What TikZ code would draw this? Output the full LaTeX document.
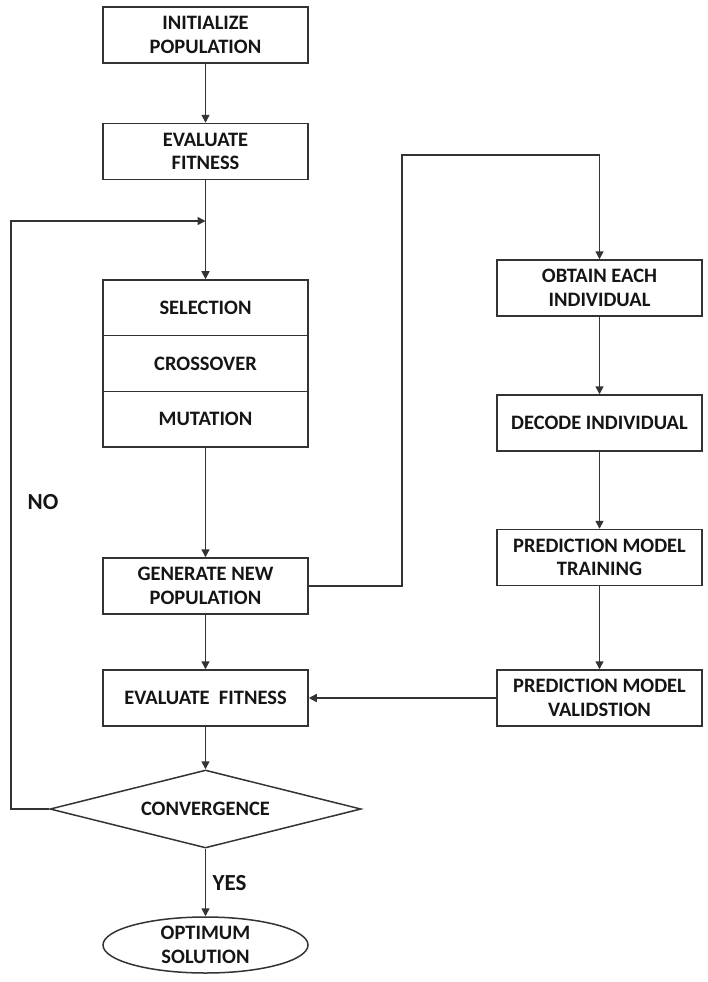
\documentclass[tikz,border=0pt]{standalone}
\usepackage{fontspec}
\setmainfont{Carlito}
\usetikzlibrary{arrows.meta,shapes.geometric}
\definecolor{ln}{HTML}{333333}
\definecolor{tx}{HTML}{151515}
\begin{document}
\begin{tikzpicture}[x=1pt,y=-1pt,
  every node/.style={text=tx,font=\fontsize{20.5}{23.5}\selectfont\bfseries,align=center,inner sep=0pt},
  box/.style={draw=ln,line width=1.5pt,minimum width=205pt,minimum height=56pt},
  stackbox/.style={draw=ln,line width=1.5pt,minimum width=205pt,minimum height=55.67pt},
  decision/.style={draw=ln,line width=1.5pt,diamond,aspect=4,minimum width=311pt,minimum height=78pt},
  terminal/.style={draw=ln,line width=1.5pt,ellipse,minimum width=205pt,minimum height=56pt},
  conn/.style={draw=ln,line width=1.5pt,-{Triangle[length=8pt,width=8pt]}},
  lbl/.style={font=\fontsize{23}{26}\selectfont\bfseries}
]
\useasboundingbox (0,0) rectangle (708,982);
\node[box] (init) at (205.5,35) {INITIALIZE\\POPULATION};
\node[box] (eval1) at (205.5,151.5) {EVALUATE\\FITNESS};
\node[stackbox] (sel) at (205.5,307.8) {SELECTION};
\node[stackbox] (cross) at (205.5,363.5) {CROSSOVER};
\node[stackbox] (mut) at (205.5,419.2) {MUTATION};
\node[box] (gen) at (205.5,586) {GENERATE NEW\\POPULATION};
\node[box] (eval2) at (205.5,698) {EVALUATE\ \ FITNESS};
\node[decision] (conv) at (205.5,809) {CONVERGENCE};
\node[terminal] (opt) at (205.5,945) {OPTIMUM\\SOLUTION};

\node[box] (obtain) at (599.5,288) {OBTAIN EACH\\INDIVIDUAL};
\node[box] (decode) at (599.5,423) {DECODE INDIVIDUAL};
\node[box] (train) at (599.5,557.5) {PREDICTION MODEL\\TRAINING};
\node[box] (valid) at (599.5,698) {PREDICTION MODEL\\VALIDSTION};

\coordinate (join) at (205.5,221);
\coordinate (nl) at (11,221);
\coordinate (tr) at (402,155);

\node[lbl] (no) at (43,502) {NO};
\node[lbl] (yes) at (229.5,883) {YES};

\draw[conn] (init) -- (eval1);
\draw[conn] (eval1) -- (sel);
\draw[conn] (mut) -- (gen);
\draw[conn] (gen) -- (eval2);
\draw[conn] (eval2) -- (conv);
\draw[conn] (conv) -- (opt);
\draw[conn] (conv.west) -| (nl) -- (join);
\draw[conn] (gen.east) -| (tr) -| (obtain.north);
\draw[conn] (obtain) -- (decode);
\draw[conn] (decode) -- (train);
\draw[conn] (train) -- (valid);
\draw[conn] (valid) -- (eval2);
\end{tikzpicture}
\end{document}
